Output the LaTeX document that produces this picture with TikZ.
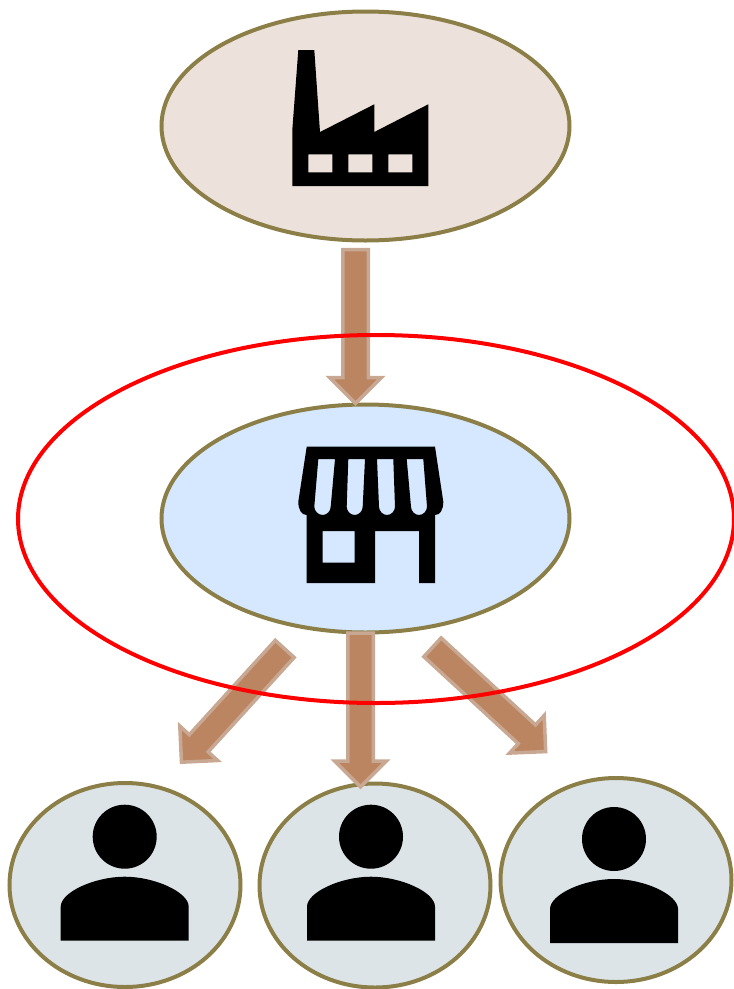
\documentclass[tikz,border=0pt]{standalone}
\usetikzlibrary{shapes.geometric,calc}
\definecolor{olive}{HTML}{8B7F47}
\definecolor{factorybg}{HTML}{EDE2DB}
\definecolor{storebg}{HTML}{D5E8FF}
\definecolor{personbg}{HTML}{DCE4E8}
\definecolor{arrowfill}{HTML}{BB8562}
\definecolor{arrowedge}{HTML}{C8A892}
\tikzset{
  blob/.style={ellipse,draw=olive,line width=4pt,inner sep=0pt,outer sep=0pt,minimum width=#1},
  blob/.default=231pt,
  blockarrow/.style={fill=arrowfill,draw=arrowedge,line width=3.5pt,miter limit=10,line join=miter},
  ring/.style={ellipse,draw=red,line width=4pt,inner sep=0pt,outer sep=0pt,minimum width=716pt,minimum height=368pt},
  personicon/.pic={
    \fill[black] (124.7,836.7) circle[radius=32];
    \fill[black] (60.7,940.7) -- (60.7,906.7) .. controls (60.7,892) and (95,876.7) .. (124.7,876.7)
      .. controls (154.4,876.7) and (188.7,892) .. (188.7,906.7) -- (188.7,940.7) -- cycle;
  }
}
\newcommand\blockarrow[2]{%
  \coordinate (shoulder) at ($(#2)!25.6pt!(#1)$);
  \draw[blockarrow] ($(#1)!12.75pt!90:(#2)$) -- ($(shoulder)!12.75pt!-90:(#1)$) -- ($(shoulder)!25.6pt!-90:(#1)$)
    -- (#2) -- ($(shoulder)!25.6pt!90:(#1)$) -- ($(shoulder)!12.75pt!90:(#1)$) -- ($(#1)!12.75pt!-90:(#2)$) -- cycle;
}
\begin{document}
\begin{tikzpicture}[x=1pt,y=-1pt]
\useasboundingbox (0,0) rectangle (734,989);
% ellipses
\node[blob=408pt,minimum height=229pt,fill=factorybg] (factory) at (365.5,126) {};
\node[blob=408pt,minimum height=228pt,fill=storebg] (store) at (365.5,518.5) {};
\node[blob,minimum height=204pt,fill=personbg] (personA) at (125,885) {};
\node[blob,minimum height=204pt,fill=personbg] (personB) at (375,885.5) {};
\node[blob,minimum height=204pt,fill=personbg] (personC) at (616,880) {};
% factory icon
\fill[black,even odd rule] (298.3,50) -- (314.3,50) -- (320,132) -- (374.3,104.3) -- (374.3,132) -- (428.3,104.3)
  -- (428.3,186) -- (292.3,186) -- (292.3,130) -- cycle
  (308.3,154.3) rectangle (332.3,172.3)
  (348.3,154.3) rectangle (372.3,172.3)
  (388.3,154.3) rectangle (412.3,172.3);
% store icon
\fill[black,even odd rule] (306.7,446.7) -- (435,446.7) -- (443.3,501.7) .. controls (443.3,510) and (440,515) .. (435,515)
  -- (435,583) -- (419,583) -- (419,531) -- (375,531) -- (375,583) -- (306.7,583) -- (306.7,515)
  .. controls (301.7,515) and (298.3,510) .. (298.3,501.7) -- cycle
  (322.7,531) rectangle (354.7,562.7)
  (318.3,459) -- (335,459) -- (330.7,506.7) .. controls (330.7,511) and (327,515) .. (322.7,515) .. controls (318.3,515) and (314.3,511) .. (314.3,506.7) -- cycle
  (348.3,459) -- (365,459) -- (362.7,506.7) .. controls (362.7,511) and (359,515) .. (354.7,515) .. controls (350.3,515) and (346.7,511) .. (346.7,506.7) -- cycle
  (377,459) -- (393.3,459) -- (395,506.7) .. controls (395,511) and (391.3,515) .. (387,515) .. controls (382.7,515) and (379,511) .. (379,506.7) -- cycle
  (406.7,459) -- (423.3,459) -- (427,506.7) .. controls (427,511) and (423.3,515) .. (419,515) .. controls (414.7,515) and (411,511) .. (411,506.7) -- cycle;
% person icons
\pic (iconA) at (0,0) {personicon};
\pic (iconB) at (246.3,0) {personicon};
\pic (iconC) at (489.3,2.3) {personicon};
% arrows
\coordinate (a1s) at (355.5,249.5);
\coordinate (a1t) at (355.5,403.3);
\coordinate (a2s) at (284.7,648.9);
\coordinate (a2t) at (181.5,762.2);
\coordinate (a3s) at (360.5,633);
\coordinate (a3t) at (360.5,786.8);
\coordinate (a4s) at (432.5,647.3);
\coordinate (a4t) at (545.7,751.6);
\blockarrow{a1s}{a1t}
\blockarrow{a2s}{a2t}
\blockarrow{a3s}{a3t}
\blockarrow{a4s}{a4t}
% ring
\node[ring] (ring) at (376,519) {};
\end{tikzpicture}
\end{document}
